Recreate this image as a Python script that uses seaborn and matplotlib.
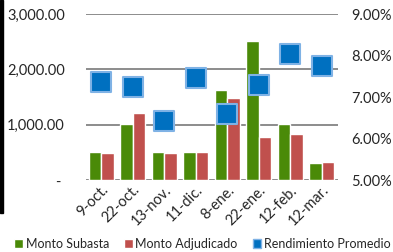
import numpy as np
import pandas as pd
import seaborn as sns
import matplotlib.pyplot as plt
from matplotlib.patches import Patch, Rectangle
from matplotlib.ticker import FuncFormatter

#
# DATA
#

fechas = ["9-oct.", "22-oct.", "13-nov.", "11-dic.", "8-ene.", "22-ene.", "12-feb.", "12-mar."]
monto_subasta = [510, 1010, 510, 510, 1630, 2505, 1010, 310]
monto_adjudicado = [495, 1215, 490, 505, 1490, 780, 830, 325]
rendimiento = [7.36, 7.24, 6.42, 7.47, 6.58, 7.29, 8.03, 7.75]

VERDE = "#4a8a08"
ROJO = "#c0504d"
AZUL = "#0070c0"
AZUL_BORDE = "#7fb2e5"
GRIS = "#8c8c8c"

sns.set_style("white")
plt.rcParams["font.family"] = ["Lato", "DejaVu Sans"]

df = pd.DataFrame({
    "fecha": fechas * 2,
    "monto": monto_subasta + monto_adjudicado,
    "serie": ["Monto Subasta"] * len(fechas) + ["Monto Adjudicado"] * len(fechas),
})
df_r = pd.DataFrame({"fecha": fechas, "rend": rendimiento})

#
# FIGURA
#

f = plt.figure(figsize=(3.93, 2.52), dpi=100)
ax = f.add_axes([0.2176, 0.2857, 0.6414, 0.6587])

sns.barplot(data=df, x="fecha", y="monto", hue="serie", ax=ax,
            palette=[VERDE, ROJO], saturation=1, width=0.8, legend=False)
ax.set_ylim(0, 3000)
ax.set_xlim(-0.5, len(fechas) - 0.5)
ax.set_yticks([0, 1000, 2000, 3000])
# formato contable: el cero se muestra como un guion
ax.yaxis.set_major_formatter(FuncFormatter(lambda v, p: "- " if v == 0 else f"{v:,.2f}"))
ax.grid(axis="y", color=GRIS, linewidth=1.4)
ax.set_axisbelow(True)
for s in ax.spines.values():
    s.set_visible(False)
ax.set_xlabel("")
ax.set_ylabel("")
ax.tick_params(axis="y", length=0, labelsize=10.5, pad=15)
ax.tick_params(axis="x", length=0, labelsize=10.5, pad=2)
plt.setp(ax.get_xticklabels(), rotation=45, ha="right", rotation_mode="anchor")

ax2 = ax.twinx()
sns.scatterplot(data=df_r, x="fecha", y="rend", ax=ax2, marker="s", s=200,
                color=AZUL, edgecolor=AZUL_BORDE, linewidth=1.5, zorder=5, legend=False)
ax2.set_ylim(5, 9)
ax2.set_yticks([5, 6, 7, 8, 9])
ax2.yaxis.set_major_formatter(FuncFormatter(lambda v, p: f"{v:.2f}%"))
for s in ax2.spines.values():
    s.set_visible(False)
ax2.set_ylabel("")
ax2.tick_params(axis="y", length=0, labelsize=10.5, pad=10)

# leyenda
handles = [
    Patch(facecolor=VERDE, label="Monto Subasta"),
    Patch(facecolor=ROJO, label="Monto Adjudicado"),
    Patch(facecolor=AZUL, edgecolor=AZUL_BORDE, linewidth=1, label="Rendimiento Promedio"),
]
f.legend(handles=handles, loc="lower center", bbox_to_anchor=(0.515, -0.035), ncol=3,
         frameon=False, fontsize=9, handlelength=0.7, handleheight=0.7,
         handletextpad=0.2, columnspacing=1.2)

# borde negro a la izquierda
f.add_artist(Rectangle((0, 1 - 213 / 252), 3 / 393, 213 / 252,
                       transform=f.transFigure, color="black"))

f.savefig("out.png", dpi=100)
